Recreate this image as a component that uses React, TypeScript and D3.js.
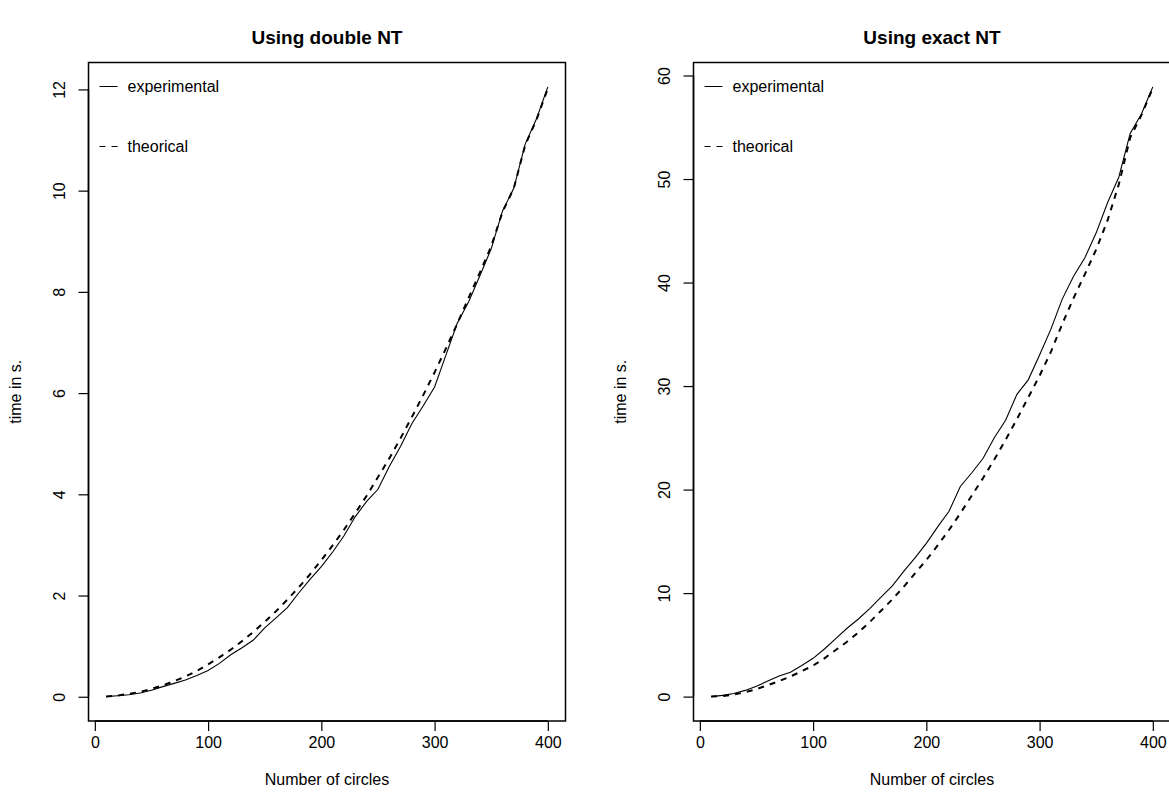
import React, { useEffect, useRef } from 'react'
import * as d3 from 'd3'

const WIDTH = 1169
const HEIGHT = 802
const PANEL_STEP = 605
const PLOT_LEFT = 88.5
const PLOT_TOP = 62.5
const PLOT_W = 477
const PLOT_H = 658.5
const FONT = '"Liberation Sans", Arial, Helvetica, sans-serif'

const nCircles = [10, 20, 30, 40, 50, 60, 70, 80, 90, 100, 110, 120, 130, 140, 150, 160, 170, 180, 190, 200,
  210, 220, 230, 240, 250, 260, 270, 280, 290, 300, 310, 320, 330, 340, 350, 360, 370, 380, 390, 400]

const doubleExperimental = [0.003, 0.02, 0.04, 0.075, 0.13, 0.2, 0.265, 0.33, 0.42, 0.52, 0.66, 0.83, 0.97, 1.12,
  1.36, 1.56, 1.76, 2.05, 2.32, 2.57, 2.86, 3.18, 3.56, 3.86, 4.1, 4.55, 4.95, 5.4, 5.75, 6.12, 6.75, 7.38, 7.8,
  8.32, 8.85, 9.6, 10.05, 10.92, 11.42, 12.05]
const doubleTheorical = [0.006, 0.025, 0.055, 0.098, 0.155, 0.225, 0.31, 0.4, 0.51, 0.64, 0.78, 0.93, 1.1, 1.28,
  1.48, 1.69, 1.92, 2.16, 2.42, 2.7, 2.99, 3.3, 3.63, 3.97, 4.34, 4.71, 5.11, 5.53, 5.96, 6.41, 6.88, 7.37, 7.88,
  8.38, 8.9, 9.58, 10.05, 10.9, 11.4, 12.02]

const exactExperimental = [0.0, 0.12, 0.3, 0.6, 1.0, 1.5, 2.0, 2.35, 3.0, 3.7, 4.6, 5.6, 6.6, 7.5, 8.5, 9.6, 10.7,
  12.1, 13.4, 14.8, 16.4, 17.9, 20.3, 21.6, 23.0, 25.0, 26.7, 29.2, 30.6, 33.0, 35.5, 38.4, 40.6, 42.4, 44.8,
  47.7, 50.2, 54.4, 56.3, 58.9]
const exactTheorical = [0.0, 0.06, 0.2, 0.42, 0.72, 1.1, 1.5, 1.95, 2.45, 3.0, 3.7, 4.5, 5.3, 6.2, 7.2, 8.3, 9.4,
  10.6, 11.9, 13.2, 14.6, 16.1, 17.7, 19.4, 21.1, 22.9, 24.8, 26.8, 28.9, 31.0, 33.3, 36.0, 38.5, 40.8, 43.2,
  46.0, 49.5, 54.0, 56.2, 58.8]

const xTicks = [0, 100, 200, 300, 400]
const doubleTicks = [0, 2, 4, 6, 8, 10, 12]
const exactTicks = [0, 10, 20, 30, 40, 50, 60]

const titles = ['Using double NT', 'Using exact NT']
const legendLabels = ['experimental', 'theorical']
const xLabel = 'Number of circles'
const yLabel = 'time in s.'

// R style axis range: data range stretched by 4% on each side
function rRange(values: number[]): [number, number] {
  const [lo, hi] = d3.extent(values) as [number, number]
  const pad = (hi - lo) * 0.04
  return [lo - pad, hi + pad]
}

export default function App() {
  const ref = useRef<SVGSVGElement>(null)

  useEffect(() => {
    const svg = d3.select(ref.current)
    svg.selectAll('*').remove()

    const panels = [
      { exp: doubleExperimental, theo: doubleTheorical, ticks: doubleTicks },
      { exp: exactExperimental, theo: exactTheorical, ticks: exactTicks },
    ]

    panels.forEach((panel, i) => {
      const left = PLOT_LEFT + i * PANEL_STEP
      const g = svg.append('g').attr('font-family', FONT)

      const x = d3.scaleLinear().domain(rRange(nCircles)).range([left, left + PLOT_W])
      const y = d3.scaleLinear()
        .domain(rRange([...panel.exp, ...panel.theo]))
        .range([PLOT_TOP + PLOT_H, PLOT_TOP])

      const line = d3.line<number>()
        .x((_, j) => x(nCircles[j]))
        .y(d => y(d))

      g.append('path')
        .attr('d', line(panel.exp))
        .attr('fill', 'none')
        .attr('stroke', '#000')
        .attr('stroke-width', 1.1)

      g.append('path')
        .attr('d', line(panel.theo))
        .attr('fill', 'none')
        .attr('stroke', '#000')
        .attr('stroke-width', 2)
        .attr('stroke-dasharray', '6,6')

      // box
      g.append('rect')
        .attr('x', left)
        .attr('y', PLOT_TOP)
        .attr('width', PLOT_W)
        .attr('height', PLOT_H)
        .attr('fill', 'none')
        .attr('stroke', '#000')
        .attr('stroke-width', 1.5)

      const xAxis = g.append('g')
        .attr('transform', `translate(0, ${PLOT_TOP + PLOT_H})`)
        .call(d3.axisBottom(x).tickValues(xTicks).tickSize(10).tickPadding(6).tickFormat(d3.format('d')))
      xAxis.select('.domain')
        .attr('d', `M${x(xTicks[0])},0H${x(xTicks[xTicks.length - 1])}`)
        .attr('stroke-width', 1.5)
      xAxis.selectAll('.tick line').attr('stroke-width', 1.2)
      xAxis.selectAll('text').attr('font-size', 16).attr('font-family', FONT)

      const yAxis = g.append('g')
        .attr('transform', `translate(${left}, 0)`)
        .call(d3.axisLeft(y).tickValues(panel.ticks).tickSize(10).tickFormat(d3.format('d')))
      yAxis.select('.domain')
        .attr('d', `M0,${y(panel.ticks[0])}V${y(panel.ticks[panel.ticks.length - 1])}`)
        .attr('stroke-width', 1.5)
      yAxis.selectAll('.tick line').attr('stroke-width', 1.2)
      yAxis.selectAll('text')
        .attr('font-size', 16)
        .attr('font-family', FONT)
        .attr('x', null)
        .attr('dy', null)
        .attr('text-anchor', 'middle')
        .attr('transform', 'translate(-24,0) rotate(-90)')

      g.append('text')
        .attr('x', left + PLOT_W / 2)
        .attr('y', 44)
        .attr('text-anchor', 'middle')
        .attr('font-weight', 'bold')
        .attr('font-size', 19)
        .text(titles[i])

      g.append('text')
        .attr('x', left + PLOT_W / 2)
        .attr('y', 785)
        .attr('text-anchor', 'middle')
        .attr('font-size', 16)
        .text(xLabel)

      g.append('text')
        .attr('transform', `translate(${left - 68}, ${PLOT_TOP + PLOT_H / 2}) rotate(-90)`)
        .attr('text-anchor', 'middle')
        .attr('font-size', 16)
        .text(yLabel)

      // legend, top left, no frame
      legendLabels.forEach((label, k) => {
        const ly = 86.5 + k * 60
        g.append('line')
          .attr('x1', left + 11)
          .attr('x2', left + 29)
          .attr('y1', ly)
          .attr('y2', ly)
          .attr('stroke', '#000')
          .attr('stroke-width', 1)
          .attr('stroke-dasharray', k === 0 ? null : '6,6')
        g.append('text')
          .attr('x', left + 39)
          .attr('y', ly)
          .attr('dy', '0.35em')
          .attr('font-size', 16)
          .text(label)
      })
    })
  }, [])

  return (
    <div style={{ position: 'absolute', left: 0, top: 0 }}>
      <svg ref={ref} width={WIDTH} height={HEIGHT} style={{ display: 'block', background: '#fff' }} />
    </div>
  )
}
